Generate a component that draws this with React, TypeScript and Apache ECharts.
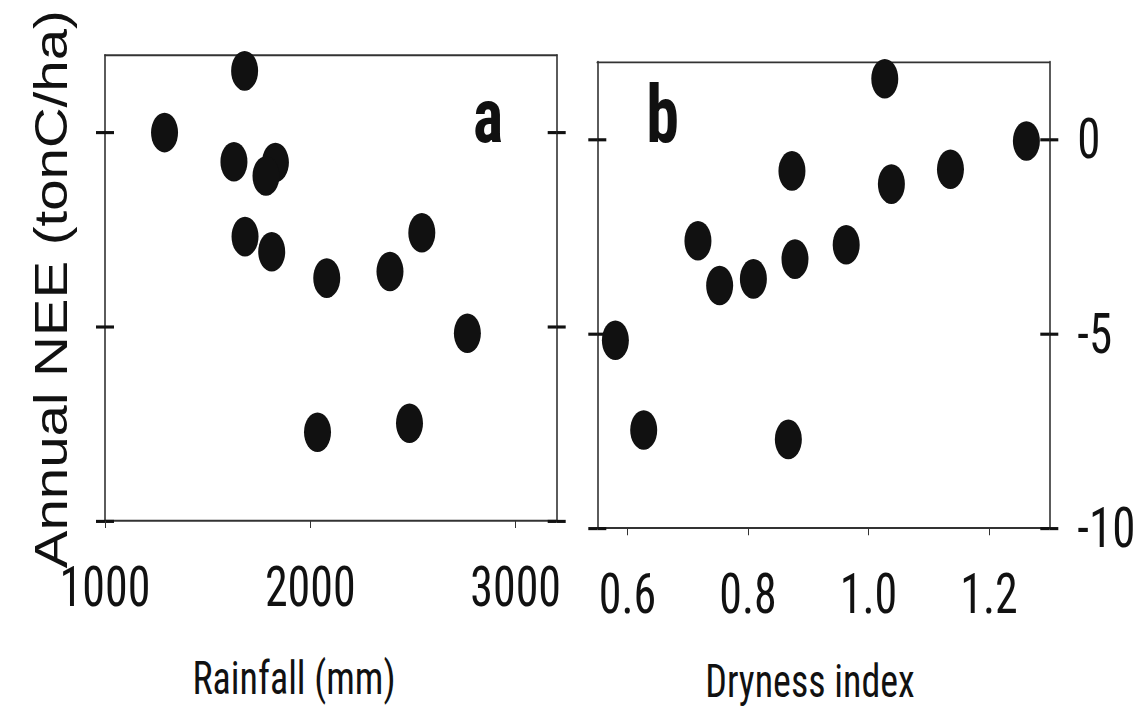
import React, { useEffect, useRef } from "react";
import * as echarts from "echarts";

// Panel a: annual rainfall (mm) vs annual NEE (tonC/ha)
const rainfall = [1290, 1680, 1628, 1830, 1784, 1682, 1812, 2080, 2388, 2543, 2765, 2035, 2483];
const neeRain = [0.0, 1.59, -0.75, -0.77, -1.12, -2.68, -3.07, -3.75, -3.58, -2.58, -5.17, -7.72, -7.49];

// Panel b: dryness index vs annual NEE (tonC/ha)
const dryness = [1.027, 1.262, 0.873, 1.038, 1.136, 0.717, 0.753, 0.809, 0.878, 0.963, 0.58, 0.627, 0.867];
const neeDry = [1.56, -0.04, -0.81, -1.15, -0.77, -2.61, -3.76, -3.59, -3.08, -2.71, -5.17, -7.48, -7.72];

const rainTicks = [1000, 2000, 3000];
const dryTicks = [0.6, 0.8, 1.0, 1.2];
const neeTicks = [-10, -5, 0];

const yTitle = "Annual NEE (tonC/ha)";
const xTitleA = "Rainfall (mm)";
const xTitleB = "Dryness index";
const panelA = "a";
const panelB = "b";

const NARROW =
  "'Liberation Sans Narrow', 'Arial Narrow', 'Roboto Condensed', 'DejaVu Sans Condensed', sans-serif";
const SANS = "'Liberation Sans', Arial, Helvetica, sans-serif";

const STRETCH = 1.2;
const W = 1135;
const H = 723 / STRETCH;

const ELLIPSE = "path://M0,50 A50,50 0 1,0 100,50 A50,50 0 1,0 0,50 Z";

export default function App() {
  const ref = useRef<HTMLDivElement>(null);

  useEffect(() => {
    if (!ref.current) return;
    const chart = echarts.init(ref.current, null, { renderer: "svg" });

    const borderLine = { show: true, onZero: false, lineStyle: { color: "#333", width: 1.6 } };
    const noLine = { show: false, onZero: false };

    const yAxis = (gridIndex: number, position: string, inside: boolean, line: boolean, labels: boolean) => ({
      type: "value",
      gridIndex,
      position,
      min: -10,
      max: 2,
      splitLine: { show: false },
      axisLine: line ? borderLine : noLine,
      axisTick: {
        show: true,
        inside,
        length: 9,
        customValues: neeTicks,
        lineStyle: { color: "#111", width: 2.6 },
      },
      axisLabel: labels
        ? {
            show: true,
            customValues: neeTicks,
            margin: 28,
            fontSize: 47,
            fontFamily: NARROW,
            color: "#111",
            formatter: (v: number) => String(v),
          }
        : { show: false },
    });

    const option: any = {
      animation: false,
      backgroundColor: "#ffffff",
      grid: [
        { left: 105, top: 45.8, width: 451.7, height: 388.1, outerBoundsMode: "none" },
        { left: 597.3, top: 51.4, width: 452, height: 388.6, outerBoundsMode: "none" },
      ],
      xAxis: [
        {
          type: "value",
          gridIndex: 0,
          position: "bottom",
          min: 1000,
          max: 3200,
          splitLine: { show: false },
          axisLine: borderLine,
          axisTick: {
            show: true,
            inside: false,
            length: 6,
            customValues: rainTicks,
            lineStyle: { color: "#333", width: 1 },
          },
          axisLabel: {
            show: true,
            customValues: rainTicks,
            margin: 32,
            fontSize: 46,
            fontFamily: NARROW,
            color: "#111",
            formatter: (v: number) => String(v),
          },
        },
        {
          type: "value",
          gridIndex: 0,
          position: "top",
          min: 1000,
          max: 3200,
          splitLine: { show: false },
          axisLine: borderLine,
          axisTick: { show: false },
          axisLabel: { show: false },
        },
        {
          type: "value",
          gridIndex: 1,
          position: "bottom",
          min: 0.55,
          max: 1.3,
          splitLine: { show: false },
          axisLine: borderLine,
          axisTick: {
            show: true,
            inside: false,
            length: 6,
            customValues: dryTicks,
            lineStyle: { color: "#333", width: 1 },
          },
          axisLabel: {
            show: true,
            customValues: dryTicks,
            margin: 32,
            fontSize: 46,
            fontFamily: NARROW,
            color: "#111",
            formatter: (v: number) => v.toFixed(1),
          },
        },
        {
          type: "value",
          gridIndex: 1,
          position: "top",
          min: 0.55,
          max: 1.3,
          splitLine: { show: false },
          axisLine: borderLine,
          axisTick: { show: false },
          axisLabel: { show: false },
        },
      ],
      yAxis: [
        yAxis(0, "left", false, true, false),
        yAxis(0, "left", true, false, false),
        yAxis(0, "right", false, true, false),
        yAxis(0, "right", true, false, false),
        yAxis(1, "left", false, true, false),
        yAxis(1, "left", true, false, false),
        yAxis(1, "right", false, true, true),
        yAxis(1, "right", true, false, false),
      ],
      series: [
        {
          type: "scatter",
          xAxisIndex: 0,
          yAxisIndex: 0,
          symbol: ELLIPSE,
          symbolSize: [27, 33],
          clip: false,
          z: 5,
          itemStyle: { color: "#111", opacity: 1 },
          data: rainfall.map((x, i) => [x, neeRain[i]]),
        },
        {
          type: "scatter",
          xAxisIndex: 2,
          yAxisIndex: 4,
          symbol: ELLIPSE,
          symbolSize: [27, 33],
          clip: false,
          z: 5,
          itemStyle: { color: "#111", opacity: 1 },
          data: dryness.map((x, i) => [x, neeDry[i]]),
        },
      ],
      graphic: [
        {
          type: "text",
          x: 50.5,
          y: 241,
          rotation: Math.PI / 2,
          style: {
            text: yTitle,
            fontSize: 47,
            fontFamily: SANS,
            fill: "#111",
            align: "center",
            verticalAlign: "middle",
          },
        },
        {
          type: "text",
          x: 294,
          y: 565,
          style: {
            text: xTitleA,
            fontSize: 38,
            fontFamily: NARROW,
            fill: "#111",
            align: "center",
            verticalAlign: "middle",
          },
        },
        {
          type: "text",
          x: 810,
          y: 568,
          style: {
            text: xTitleB,
            fontSize: 38,
            fontFamily: NARROW,
            fill: "#111",
            align: "center",
            verticalAlign: "middle",
          },
        },
        {
          type: "text",
          x: 488,
          y: 96,
          style: {
            text: panelA,
            fontSize: 64,
            fontWeight: "bold",
            fontFamily: NARROW,
            fill: "#111",
            align: "center",
            verticalAlign: "middle",
          },
        },
        {
          type: "text",
          x: 662.5,
          y: 95,
          style: {
            text: panelB,
            fontSize: 66,
            fontWeight: "bold",
            fontFamily: NARROW,
            fill: "#111",
            align: "center",
            verticalAlign: "middle",
          },
        },
      ],
    };

    chart.setOption(option);
    return () => chart.dispose();
  }, []);

  return (
    <div style={{ position: "fixed", left: 0, top: 0, width: W, height: 723, background: "#fff", overflow: "hidden" }}>
      <div
        ref={ref}
        style={{ width: W, height: H, transform: `scaleY(${STRETCH})`, transformOrigin: "0 0" }}
      />
    </div>
  );
}
